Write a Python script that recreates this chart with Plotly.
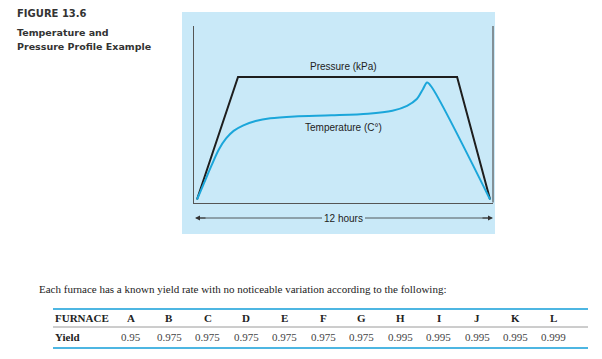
import plotly.graph_objects as go

W, H = 602, 359

# ---- data ----
hours_pressure = [0, 1.68, 10.65, 12]
pressure = [0, 100, 100, 0]

hours_temp = [0, 0.3, 0.6, 0.9, 1.2, 1.5, 1.9, 2.4, 3.0, 4.0, 5.5,
              7.0, 8.0, 8.6, 9.0, 9.25, 9.42, 9.6, 12]
temperature = [0, 14, 28, 41, 50, 56, 60.5, 64, 66.3, 67.8, 68.7,
               70, 72.5, 76.5, 82, 90, 95.5, 92, 0]

furnaces = ["A", "B", "C", "D", "E", "F", "G", "H", "I", "J", "K", "L"]
yields = ["0.95", "0.975", "0.975", "0.975", "0.975", "0.975", "0.975",
          "0.995", "0.995", "0.995", "0.995", "0.999"]


def px(x):
    return x / W


def py(y):
    return 1 - y / H


fig = go.Figure()
fig.add_trace(go.Scatter(x=hours_pressure, y=pressure, mode="lines",
                         line=dict(color="#1e1e1e", width=2), hoverinfo="skip"))
fig.add_trace(go.Scatter(x=hours_temp, y=temperature, mode="lines",
                         line=dict(color="#1ba6da", width=2, shape="spline", smoothing=0.9),
                         hoverinfo="skip"))

shapes = []
# blue panel
shapes.append(dict(type="rect", xref="paper", yref="paper", x0=px(182), x1=px(495),
                   y0=py(234), y1=py(12), fillcolor="#c9e9f8", line=dict(width=0), layer="below"))
# right spine
shapes.append(dict(type="line", xref="paper", yref="paper", x0=px(493), x1=px(493),
                   y0=py(202.5), y1=py(26), line=dict(color="#555", width=1.2)))
# 12 hours arrow lines
shapes.append(dict(type="line", xref="paper", yref="paper", x0=px(197), x1=px(322),
                   y0=py(218), y1=py(218), line=dict(color="#333", width=0.8)))
shapes.append(dict(type="line", xref="paper", yref="paper", x0=px(365), x1=px(491),
                   y0=py(218), y1=py(218), line=dict(color="#333", width=0.8)))
# table lines
shapes.append(dict(type="line", xref="paper", yref="paper", x0=px(53), x1=px(588),
                   y0=py(309), y1=py(309), line=dict(color="#4db6e2", width=2)))
shapes.append(dict(type="line", xref="paper", yref="paper", x0=px(53), x1=px(588),
                   y0=py(327), y1=py(327), line=dict(color="#9a9a9a", width=1)))
shapes.append(dict(type="line", xref="paper", yref="paper", x0=px(53), x1=px(588),
                   y0=py(348), y1=py(348), line=dict(color="#4db6e2", width=2)))

ann = []
sans = "Liberation Sans"
serif = "Liberation Serif"
tfont = "DejaVu Sans"
ann.append(dict(x=px(15), y=py(14), xref="paper", yref="paper", xanchor="left", yanchor="middle",
                text="<b>FIGURE 13.6</b>", showarrow=False,
                font=dict(family=tfont, size=10, color="#333")))
ann.append(dict(x=px(15), y=py(33), xref="paper", yref="paper", xanchor="left", yanchor="middle",
                text="<b>Temperature and</b>", showarrow=False,
                font=dict(family=tfont, size=9.5, color="#333")))
ann.append(dict(x=px(15), y=py(46), xref="paper", yref="paper", xanchor="left", yanchor="middle",
                text="<b>Pressure Profile Example</b>", showarrow=False,
                font=dict(family=tfont, size=9.5, color="#333")))
ann.append(dict(x=px(343), y=py(66), xref="paper", yref="paper", xanchor="center", yanchor="middle",
                text="Pressure (kPa)", showarrow=False, font=dict(family=sans, size=10, color="#222")))
ann.append(dict(x=px(343), y=py(127), xref="paper", yref="paper", xanchor="center", yanchor="middle",
                text="Temperature (C°)", showarrow=False, font=dict(family=sans, size=10, color="#222")))
ann.append(dict(x=px(343), y=py(218), xref="paper", yref="paper", xanchor="center", yanchor="middle",
                text="12 hours", showarrow=False, font=dict(family=sans, size=10, color="#222")))
# arrow heads
ann.append(dict(x=px(195), y=py(218), xref="paper", yref="paper", ax=12, ay=0, text="",
                showarrow=True, arrowhead=2, arrowsize=1, arrowwidth=1, arrowcolor="#333"))
ann.append(dict(x=px(493), y=py(218), xref="paper", yref="paper", ax=-12, ay=0, text="",
                showarrow=True, arrowhead=2, arrowsize=1, arrowwidth=1, arrowcolor="#333"))
# sentence
ann.append(dict(x=px(37), y=py(289), xref="paper", yref="paper", xanchor="left", yanchor="middle",
                text="Each furnace has a known yield rate with no noticeable variation according to the following:",
                showarrow=False, font=dict(family=serif, size=11, color="#222")))
# table
ann.append(dict(x=px(53), y=py(318), xref="paper", yref="paper", xanchor="left", yanchor="middle",
                text="<b>FURNACE</b>", showarrow=False, font=dict(family=serif, size=11, color="#222")))
ann.append(dict(x=px(53), y=py(337), xref="paper", yref="paper", xanchor="left", yanchor="middle",
                text="<b>Yield</b>", showarrow=False, font=dict(family=serif, size=11, color="#222")))
for i, (f, yv) in enumerate(zip(furnaces, yields)):
    cx = 131 + i * 38.45
    ann.append(dict(x=px(cx), y=py(318), xref="paper", yref="paper", xanchor="center", yanchor="middle",
                    text="<b>" + f + "</b>", showarrow=False,
                    font=dict(family=serif, size=11, color="#222")))
    ann.append(dict(x=px(cx), y=py(337), xref="paper", yref="paper", xanchor="center", yanchor="middle",
                    text=yv, showarrow=False, font=dict(family=serif, size=11, color="#444")))

fig.update_layout(
    width=W, height=H, margin=dict(l=0, r=0, t=0, b=0),
    paper_bgcolor="white", plot_bgcolor="rgba(0,0,0,0)",
    showlegend=False, shapes=shapes, annotations=ann,
    xaxis=dict(domain=[px(194), px(493)], range=[-0.123, 12.12], showgrid=False, zeroline=False,
               showticklabels=False, ticks="", showline=True, linecolor="#555", linewidth=1.2,
               fixedrange=True),
    yaxis=dict(domain=[py(202.5), py(26)], range=[-2.45, 141.6], showgrid=False, zeroline=False,
               showticklabels=False, ticks="", showline=True, linecolor="#555", linewidth=1.2,
               fixedrange=True),
)

fig.write_html("out.html", config={"displayModeBar": False},
               post_script="document.body.style.margin='0px';document.body.style.overflow='hidden';")
